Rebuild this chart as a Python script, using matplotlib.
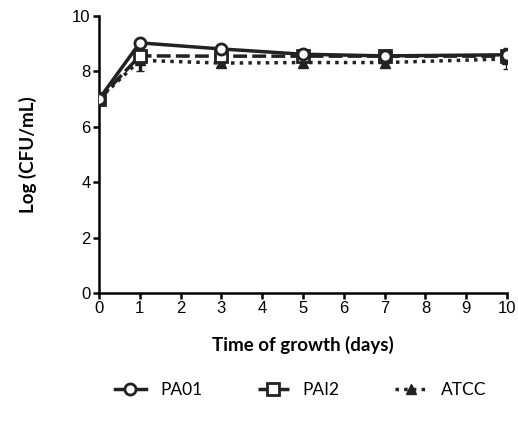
import matplotlib
matplotlib.use('Agg')
import matplotlib.pyplot as plt

days = [0, 1, 3, 5, 7, 10]
pa01 = [7.0, 9.03, 8.81, 8.62, 8.56, 8.60]
pa01_err = [0.05, 0.05, 0.05, 0.05, 0.05, 0.05]
pai2 = [7.0, 8.56, 8.55, 8.55, 8.55, 8.55]
pai2_err = [0.05, 0.15, 0.1, 0.1, 0.05, 0.1]
atcc = [7.0, 8.40, 8.30, 8.32, 8.32, 8.45]
atcc_err = [0.05, 0.38, 0.15, 0.15, 0.12, 0.38]

fig = plt.figure(figsize=(5.18, 4.26), dpi=100)
ax = fig.add_axes([99/518, 1-293/426, 408/518, 277/426])

lc = '#222222'
ax.errorbar(days, pa01, yerr=pa01_err, color=lc, lw=2.5, ls='-', marker='o',
            ms=8, mfc='white', mec=lc, mew=2, capsize=3, label='PA01', zorder=3)
ax.errorbar(days, pai2, yerr=pai2_err, color=lc, lw=2.5, ls=(0, (4, 1.5)), marker='s',
            ms=8, mfc='white', mec=lc, mew=2, capsize=3, label='PAI2', zorder=2)
ax.errorbar(days, atcc, yerr=atcc_err, color=lc, lw=2.5, ls=(0, (1, 1.5)), marker='^',
            ms=7, mfc=lc, mec=lc, capsize=3, label='ATCC', zorder=1)

ax.set_xlim(0, 10)
ax.set_ylim(0, 10)
ax.set_xticks(range(0, 11))
ax.set_yticks(range(0, 11, 2))
for s in ['top', 'right']:
    ax.spines[s].set_visible(False)
for s in ['left', 'bottom']:
    ax.spines[s].set_linewidth(1.8)
ax.tick_params(width=1.8, length=4, labelsize=12, pad=2)
for t in ax.get_xticklabels() + ax.get_yticklabels():
    t.set_family('Liberation Sans')

ax.set_xlabel('Time of growth (days)', fontsize=13.5, fontweight='bold', family='Lato', labelpad=14)
ax.set_ylabel('Log (CFU/mL)', fontsize=13.5, fontweight='bold', family='Lato', labelpad=25)

h, l = ax.get_legend_handles_labels()
h = [x[0] for x in h]
fig.legend(h, l, loc='center', bbox_to_anchor=(0.58, 0.085), ncol=3, frameon=False,
           prop={'family': 'Lato', 'size': 12.5}, handlelength=1.8, columnspacing=3.2)

fig.savefig('out.png', dpi=100)
